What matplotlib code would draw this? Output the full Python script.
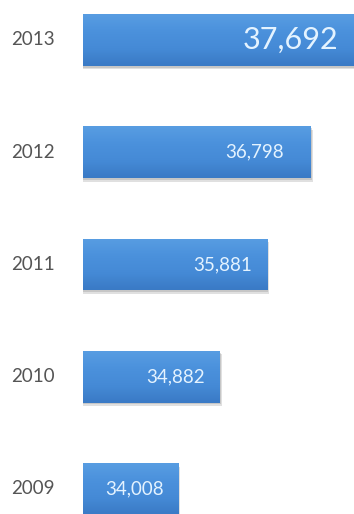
import numpy as np
import matplotlib
matplotlib.use("Agg")
import matplotlib.pyplot as plt
from matplotlib import patheffects as pe
from matplotlib.colors import LinearSegmentedColormap

# Yearly totals
years = ["2009", "2010", "2011", "2012", "2013"]
values = [34008, 34882, 35881, 36798, 37692]

# Styling
label_gap_px = [15, 15, 15, 27, 15]
label_sizes = [13.5, 13.5, 13.5, 13.5, 22]
bar_height = 0.46
font = ["Lato", "DejaVu Sans"]

fig = plt.figure(figsize=(3.54, 5.14), dpi=100)
fig.patch.set_facecolor("white")
ax = fig.add_axes([83 / 354, 0, 271 / 354, 1])
ax.set_xlim(32000, 37705)
ax.set_ylim(-0.223, 4.356)
ax.axis("off")

pos = np.arange(len(years))
bars = ax.barh(pos, values, height=bar_height, color="#4a8fdb", linewidth=0)

# Vertical blue gradient inside each bar, with a soft drop shadow
grad_cmap = LinearSegmentedColormap.from_list(
    "bar", ["#3a7ac5", "#458ad6", "#4b91dc", "#589de2"])
grad = np.linspace(0, 1, 64).reshape(-1, 1)
xmin = ax.get_xlim()[0]
for bar, y, v in zip(bars, pos, values):
    bar.set_path_effects([
        pe.SimplePatchShadow(offset=(1.5, -2.5), shadow_rgbFace="#9a9a9a", alpha=0.3),
        pe.SimplePatchShadow(offset=(0.8, -1.3), shadow_rgbFace="#8a8a8a", alpha=0.3),
        pe.Normal(),
    ])
    img = ax.imshow(grad, cmap=grad_cmap, origin="lower", aspect="auto",
                    extent=(xmin, v, y - bar_height / 2, y + bar_height / 2),
                    zorder=bar.get_zorder() + 0.1, interpolation="bilinear")
    img.set_clip_path(bar)

ax.set_xlim(32000, 37705)
ax.set_ylim(-0.223, 4.356)

for y, v, gap, fs, yr in zip(pos, values, label_gap_px, label_sizes, years):
    ax.annotate(f"{v:,}", xy=(v, y), xytext=(-gap, 0), textcoords="offset pixels",
                ha="right", va="center", fontsize=fs, color="#e4f3ff",
                family=font, zorder=5)
    ax.annotate(yr, xy=(0, y), xycoords=("axes fraction", "data"),
                xytext=(-28, 0), textcoords="offset pixels",
                ha="right", va="center", fontsize=13.5, color="#555555",
                family=font, annotation_clip=False)

fig.savefig("out.png", dpi=100, facecolor="white")
